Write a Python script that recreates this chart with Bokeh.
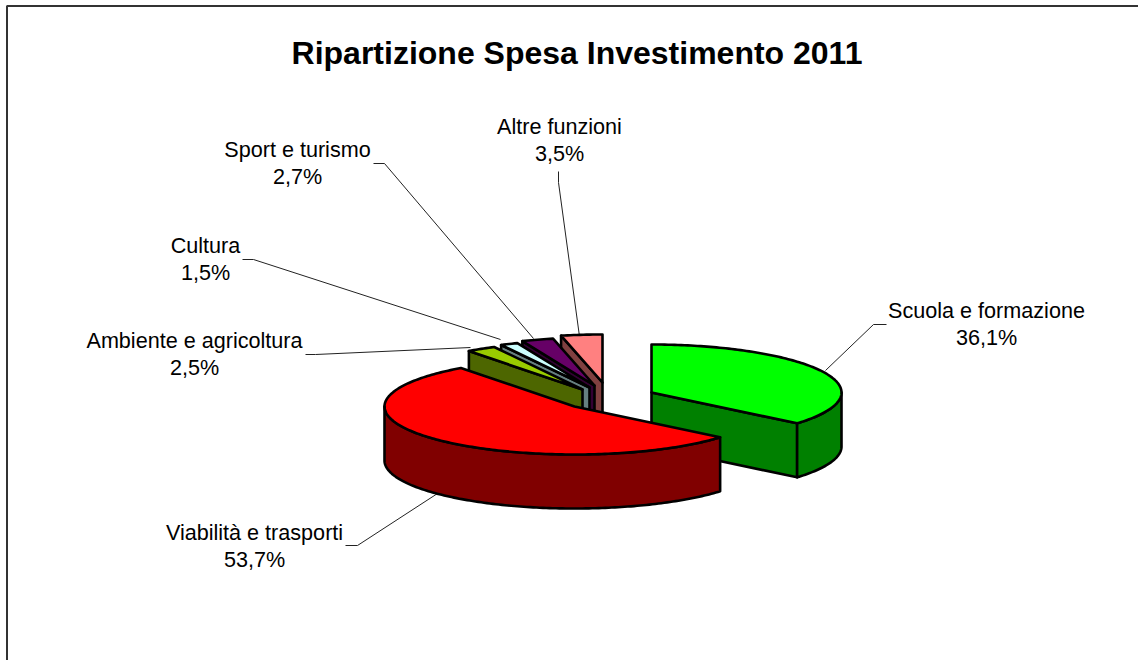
import math
from bokeh.plotting import figure
from bokeh.core.properties import value
from bokeh.embed import file_html
from bokeh.resources import INLINE

title_text = "Ripartizione Spesa Investimento 2011"
categories = ["Scuola e formazione", "Viabilità e trasporti", "Ambiente e agricoltura",
              "Cultura", "Sport e turismo", "Altre funzioni"]
percent = [36.1, 53.7, 2.5, 1.5, 2.7, 3.5]
top_colors = ["#00FF00", "#FF0000", "#99CC00", "#CCFFFF", "#660066", "#FF8080"]
side_colors = ["#008000", "#800000", "#4D6600", "#668080", "#330033", "#804040"]

# layout: exploded centre of every slice, ellipse and depth, in page pixels
centre_x = [651, 574, 582, 589, 594, 602]
centre_y = [392, 406, 389, 387, 385, 382]
RX, RY, DEPTH = 190, 48, 54
paint_order = [5, 4, 3, 2, 0, 1]

label_x = [986, 254, 194, 205, 297, 559]
label_y1 = [310, 532, 340, 245, 149, 126]
label_y2 = [337, 559, 367, 272, 176, 153]
leader_x = [[886, 873, 825], [345, 357, 437], [305, 315, 470],
            [242, 253, 500], [373, 384, 533], [558, 558, 579]]
leader_y = [[324, 324, 370], [545, 545, 493], [354, 354, 347],
            [259, 259, 339], [163, 163, 338], [171, 182, 336]]

p = figure(width=1138, height=660, x_range=(0, 1138), y_range=(660, 0),
           toolbar_location=None, output_backend="svg", min_border=0,
           x_axis_type=None, y_axis_type=None)
p.grid.visible = False
p.outline_line_color = None
p.background_fill_color = "white"
p.border_fill_color = "white"
p.styles = {"position": "absolute", "left": "0px", "top": "0px"}

# chart frame
p.line([6.5, 6.5, 1138], [660, 5.5, 5.5], line_color="#333333", line_width=2)

# leaders
p.multi_line(leader_x, leader_y, line_color="#222222", line_width=1)


def pt(cx, cy, deg):
    r = math.radians(deg)
    return cx + RX * math.sin(r), cy - RY * math.cos(r)


def arc(cx, cy, a, b):
    n = max(2, int(abs(b - a)) + 2)
    return [pt(cx, cy, a + (b - a) * i / (n - 1)) for i in range(n)]


starts = []
acc = 0.0
for v in percent:
    starts.append(acc * 3.6)
    acc += v

for i in paint_order:
    a = starts[i]
    b = a + percent[i] * 3.6
    cx, cy = centre_x[i], centre_y[i]
    style = dict(line_color="black", line_width=2.6, line_join="round")
    # visible cut faces
    for ang, seen in ((a, math.sin(math.radians(a)) < -1e-6), (b, math.sin(math.radians(b)) > 1e-6)):
        if seen:
            ex, ey = pt(cx, cy, ang)
            p.patch([cx, ex, ex, cx], [cy, ey, ey + DEPTH, cy + DEPTH], fill_color=side_colors[i], **style)
    # outer wall, the part that faces the viewer
    lo, hi = max(a, 90), min(b, 270)
    if lo < hi:
        pts = arc(cx, cy, lo, hi)
        xs = [q[0] for q in pts] + [q[0] for q in reversed(pts)]
        ys = [q[1] for q in pts] + [q[1] + DEPTH for q in reversed(pts)]
        p.patch(xs, ys, fill_color=side_colors[i], **style)
    # top
    pts = arc(cx, cy, a, b)
    p.patch([cx] + [q[0] for q in pts], [cy] + [q[1] for q in pts], fill_color=top_colors[i], **style)

font = value("Liberation Sans")
p.text([576.5], [52], text=[title_text], text_font=font, text_font_style="bold",
       text_font_size="32px", text_align="center", text_baseline="middle", text_color="black")
p.text(label_x, label_y1, text=categories, text_font=font, text_font_size="21.6px",
       text_align="center", text_baseline="middle", text_color="black")
p.text(label_x, label_y2, text=[f"{v:.1f}%".replace(".", ",") for v in percent], text_font=font,
       text_font_size="21.6px", text_align="center", text_baseline="middle", text_color="black")

open("out.html", "w").write(file_html(p, INLINE))
